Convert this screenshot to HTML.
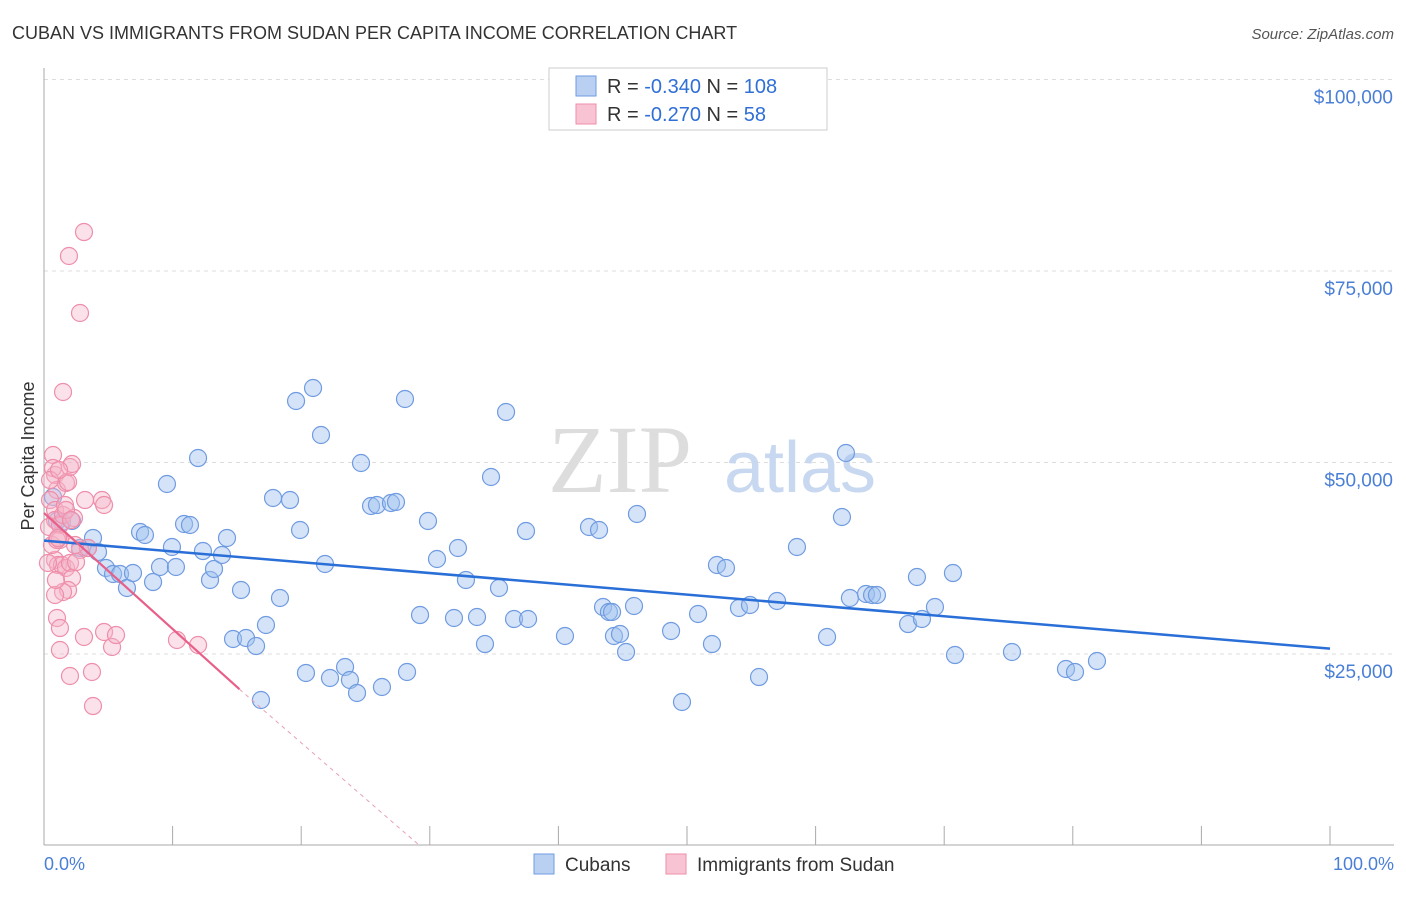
<!DOCTYPE html>
<html><head><meta charset="utf-8"><style>
body{margin:0;background:#fff;font-family:"Liberation Sans",sans-serif}
#c{position:relative;width:1406px;height:892px}
</style></head><body>
<div id="c">
<svg width="1406" height="892">
<text x="12" y="39" font-size="18" fill="#333">CUBAN VS IMMIGRANTS FROM SUDAN PER CAPITA INCOME CORRELATION CHART</text>
<text x="1394" y="39" font-size="15" fill="#555" font-style="italic" text-anchor="end">Source: ZipAtlas.com</text>
<g id="grid"></g>
<line x1="44" y1="68" x2="44" y2="845" stroke="#aaa"/>
<line x1="44" y1="845" x2="1394" y2="845" stroke="#aaa"/>
<g id="xt"></g>
<text x="620" y="492" font-size="96" fill="#ddd" font-family="Liberation Serif" text-anchor="middle">ZIP</text>
<text x="800" y="492" font-size="72" fill="#c8d8f0" text-anchor="middle">atlas</text>
<text transform="translate(34,456) rotate(-90)" font-size="18" fill="#333" text-anchor="middle">Per Capita Income</text>
<g id="pts"></g>
<g id="lines"></g>
<text x="44" y="870" font-size="18" fill="#4a7fd6">0.0%</text>
<text x="1394" y="870" font-size="18" fill="#4a7fd6" text-anchor="end">100.0%</text>
<g>
<rect x="549" y="68" width="278" height="62" fill="#fff" stroke="#ccc"/>
<rect x="576" y="76" width="20" height="20" fill="#b9d0f3" stroke="#6f9be0"/>
<rect x="576" y="104" width="20" height="20" fill="#f8c4d3" stroke="#ee8eaa"/>
<text x="607" y="93" font-size="20" fill="#333">R = <tspan fill="#2f6fd6">-0.340</tspan>   N = <tspan fill="#2f6fd6">108</tspan></text>
<text x="607" y="121" font-size="20" fill="#333">R = <tspan fill="#2f6fd6">-0.270</tspan>   N = <tspan fill="#2f6fd6"> 58</tspan></text>
</g>
<g>
<rect x="534" y="854" width="20" height="20" fill="#b9d0f3" stroke="#6f9be0"/>
<text x="565" y="871" font-size="19" fill="#333">Cubans</text>
<rect x="666" y="854" width="20" height="20" fill="#f8c4d3" stroke="#ee8eaa"/>
<text x="697" y="871" font-size="19" fill="#333">Immigrants from Sudan</text>
</g>
</svg>
</div>
<script>
const yTicks=[25000,50000,75000,100000];
const yTickLabels=["$25,000","$50,000","$75,000","$100,000"];
const bluePx=[[53,497],[57,521],[62,522],[72,521],[80,548],[88,548],[93,538],[98,552],[106,568],[113,574],[120,574],[127,588],[133,573],[140,532],[145,535],[153,582],[160,567],[167,484],[172,547],[176,567],[184,524],[190,525],[198,458],[203,551],[210,580],[214,569],[222,555],[227,538],[233,639],[241,590],[246,638],[256,646],[261,700],[266,625],[273,498],[280,598],[290,500],[300,530],[306,673],[313,388],[321,435],[325,564],[330,678],[345,667],[350,680],[357,693],[296,401],[361,463],[371,506],[377,505],[382,687],[391,503],[396,502],[405,399],[407,672],[420,615],[428,521],[437,559],[454,618],[458,548],[466,580],[477,617],[485,644],[491,477],[499,588],[506,412],[514,619],[526,531],[528,619],[565,636],[589,527],[599,530],[603,607],[609,612],[614,636],[620,634],[626,652],[634,606],[637,514],[671,631],[682,702],[698,614],[712,644],[717,565],[726,568],[739,608],[750,605],[759,677],[777,601],[797,547],[827,637],[842,517],[846,453],[850,598],[866,594],[872,595],[877,595],[908,624],[917,577],[922,619],[935,607],[953,573],[955,655],[1012,652],[1066,669],[1075,672],[1097,661],[612,612]];
const pinkPx=[[53,455],[55,475],[57,490],[50,500],[55,510],[55,520],[49,527],[60,525],[63,515],[65,505],[66,483],[68,482],[70,467],[72,464],[74,518],[80,550],[85,500],[88,548],[102,500],[104,505],[55,560],[58,565],[62,565],[66,568],[70,563],[72,578],[68,590],[63,592],[55,595],[52,545],[56,580],[60,540],[76,562],[57,618],[60,628],[60,650],[70,676],[84,637],[92,672],[93,706],[104,632],[112,647],[116,635],[177,640],[198,645],[63,392],[69,256],[84,232],[80,313],[53,468],[57,540],[48,563],[58,538],[66,510],[71,520],[50,480],[75,545],[59,470]];
// data values (percent, income) derived from the reading above
const blueX=bluePx.map(p=>+((p[0]-44)/12.86).toFixed(2));
const blueY=bluePx.map(p=>Math.round((845.5-p[1])/0.00766));
const pinkX=pinkPx.map(p=>+((p[0]-44)/12.86).toFixed(2));
const pinkY=pinkPx.map(p=>Math.round((845.5-p[1])/0.00766));
const blueTrend=[[0,39800],[100,25700]];
const pinkTrend=[[0,43400],[15.2,20400],[29.2,0]];
const sx=v=>44+v*12.86, sy=v=>845.5-v*0.00766;
const NS="http://www.w3.org/2000/svg";
function mk(t,a,p){const e=document.createElementNS(NS,t);for(const k in a)e.setAttribute(k,a[k]);p.appendChild(e);return e;}
const grid=document.getElementById('grid');
yTicks.forEach((v,i)=>{
 const l=mk('line',{x1:44,x2:1394,y1:sy(v),y2:sy(v),stroke:'#ddd','stroke-dasharray':'4,4'},grid);
 
 
 const t=mk('text',{x:1393,y:sy(v)+24,'font-size':19,fill:'#4a7fd6','text-anchor':'end'},grid);
 t.textContent=yTickLabels[i];
 
 
});
const xt=document.getElementById('xt');
for(let i=0;i<=10;i++){const l=mk('line',{x1:sx(i*10),x2:sx(i*10),y1:826,y2:845,stroke:'#aaa'},xt);
 
 }
const pts=document.getElementById('pts');
blueX.forEach((x,i)=>{const c=mk('circle',{cx:sx(x),cy:sy(blueY[i]),r:8.5,fill:'rgba(160,192,240,0.45)',stroke:'#6f9be0','stroke-width':1.2},pts);
 
 });
pinkX.forEach((x,i)=>{const c=mk('circle',{cx:sx(x),cy:sy(pinkY[i]),r:8.5,fill:'rgba(246,180,200,0.4)',stroke:'#ee8eaa','stroke-width':1.2},pts);
 
 });
const lines=document.getElementById('lines');
let l=mk('line',{x1:sx(blueTrend[0][0]),y1:sy(blueTrend[0][1]),x2:sx(blueTrend[1][0]),y2:sy(blueTrend[1][1]),stroke:'#2a6fd8','stroke-width':2.5},lines);


l=mk('line',{x1:sx(pinkTrend[0][0]),y1:sy(pinkTrend[0][1]),x2:sx(pinkTrend[1][0]),y2:sy(pinkTrend[1][1]),stroke:'#e8608a','stroke-width':2.2},lines);


l=mk('line',{x1:sx(pinkTrend[1][0]),y1:sy(pinkTrend[1][1]),x2:sx(pinkTrend[2][0]),y2:sy(pinkTrend[2][1]),stroke:'#e8a0b4','stroke-width':1,'stroke-dasharray':'4,4'},lines);


</script>
</body></html>
